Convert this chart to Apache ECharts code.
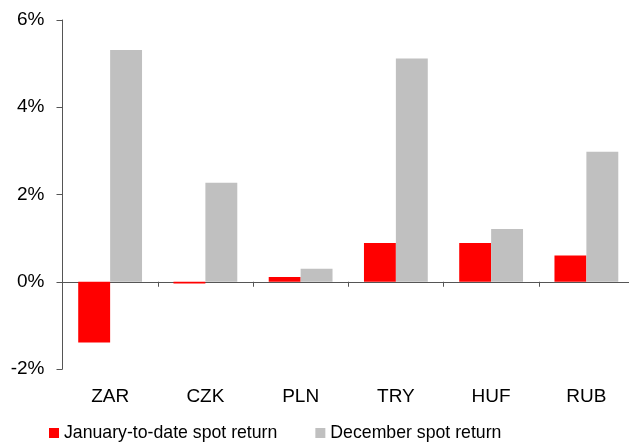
<!DOCTYPE html>
<html><head><meta charset="utf-8">
<script src="https://cdn.jsdelivr.net/npm/echarts@6/dist/echarts.min.js"></script>
<style>html,body{margin:0;padding:0;background:#fff;overflow:hidden;width:629px;height:446px}#c{width:640px;height:446px}</style>
</head><body><div id="c"></div>
<script>
const categories = ['ZAR','CZK','PLN','TRY','HUF','RUB'];
const janToDate = [-1.39, -0.04, 0.11, 0.89, 0.89, 0.60];
const december = [5.31, 2.27, 0.30, 5.12, 1.21, 2.98];
const seriesNames = ['January-to-date spot return', 'December spot return'];
const yTicks = {min: -2, max: 6, interval: 2};

const font = '"Liberation Sans", Arial, sans-serif';
const chart = echarts.init(document.getElementById('c'), null, {renderer: 'canvas'});
chart.setOption({
  animation: false,
  textStyle: {fontFamily: font},
  grid: {left: 62.5, right: 6, top: 20, bottom: 77, containLabel: false},
  legend: {
    left: 49, top: 424, padding: 0, itemWidth: 10, itemHeight: 10, itemGap: 38,
    icon: 'rect',
    textStyle: {fontFamily: font, fontSize: 17.7, color: '#000'},
    data: seriesNames
  },
  xAxis: [{
    type: 'category', data: categories, position: 'bottom',
    axisLine: {onZero: true, lineStyle: {color: '#555', width: 1}},
    axisTick: {show: true, length: 5, lineStyle: {color: '#555'}},
    axisLabel: {show: false}
  }, {
    type: 'category', data: categories, position: 'bottom',
    axisLine: {show: false, onZero: false},
    axisTick: {show: false},
    axisLabel: {show: true, margin: 18, fontFamily: font, fontSize: 19, color: '#000'}
  }],
  yAxis: {
    type: 'value', min: yTicks.min, max: yTicks.max, interval: yTicks.interval,
    axisLine: {show: true, lineStyle: {color: '#555', width: 1}},
    axisTick: {show: true, length: 6, lineStyle: {color: '#555'}},
    splitLine: {show: false},
    axisLabel: {formatter: '{value}%', margin: 18, fontFamily: font, fontSize: 19, color: '#000'}
  },
  series: [{
    name: seriesNames[0], type: 'bar', data: janToDate, xAxisIndex: 0,
    barGap: '0%', barCategoryGap: '33%',
    itemStyle: {color: '#FF0000'}
  }, {
    name: seriesNames[1], type: 'bar', data: december, xAxisIndex: 0,
    barGap: '0%', barCategoryGap: '33%',
    itemStyle: {color: '#C0C0C0'}
  }]
});
</script></body></html>
